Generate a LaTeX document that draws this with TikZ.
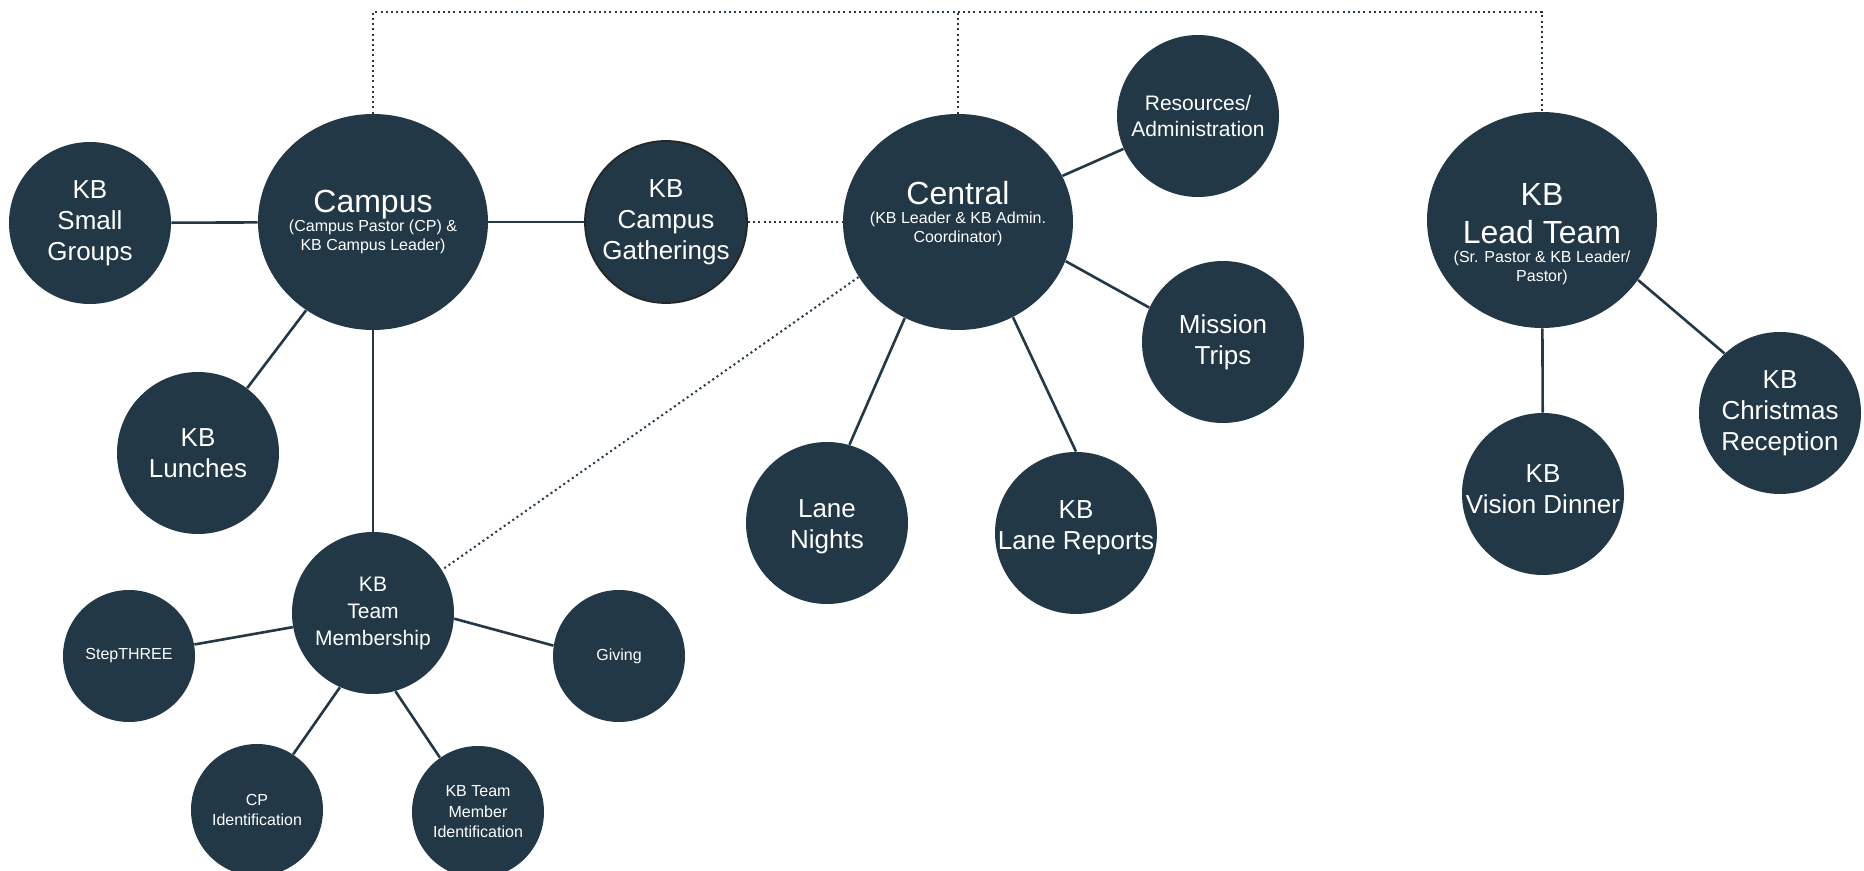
\documentclass[tikz,border=0pt]{standalone}
\usepackage{fontspec}
\setmainfont{Liberation Sans}
\usetikzlibrary{shapes.geometric}
\definecolor{kbfill}{RGB}{34,56,70}
\newcommand{\kbbigfont}{\fontsize{16pt}{19pt}\selectfont}
\newcommand{\kbsubfont}{\fontsize{8pt}{9.5pt}\selectfont}
\newcommand{\kbmedfont}{\fontsize{13pt}{15.5pt}\selectfont}
\newcommand{\kbmidfont}{\fontsize{10.5pt}{13.5pt}\selectfont}
\newcommand{\kbsmlfont}{\fontsize{8pt}{10.25pt}\selectfont}
\newcommand{\kbdeep}[2]{\raisebox{0pt}[\height][\dimexpr\depth+#1\relax]{#2}}
\newcommand{\kbtall}[2]{\raisebox{0pt}[\dimexpr\height+#1\relax][\depth]{#2}}
\begin{document}
\begin{tikzpicture}[x=0.5pt,y=-0.5pt,
  bub/.style={circle, fill=kbfill, text=white, inner sep=-30pt, align=center},
  large/.style={bub, ellipse, minimum width=115pt, minimum height=108pt, font=\kbsubfont},
  med/.style={bub, minimum size=81pt, font=\kbmedfont},
  mid/.style={bub, minimum size=81pt, font=\kbmidfont},
  sml/.style={bub, minimum size=66pt, font=\kbsmlfont},
  link/.style={draw=kbfill, line width=1.3pt},
  dotlink/.style={draw=kbfill, line width=1pt, dash pattern=on 1pt off 1.6pt}]
\clip (0,0) rectangle (1864,871);
\fill[white] (0,0) rectangle (1864,871);
% large nodes
\node[large] (campus) at (373,222) {{\kbbigfont Campus}\\(Campus Pastor (CP) \&\\KB Campus Leader)};
\node[large] (central) at (958,222) {{\kbbigfont Central}\\(KB Leader \& KB Admin.\\\kbdeep{8.4pt}{Coordinator)}};
\node[large] (lead) at (1542,220) {{\kbbigfont\raisebox{0pt}[25.5pt][0pt]{KB}}\\[6.3pt]{\kbbigfont Lead Team}\\(Sr. Pastor \& KB Leader/\\Pastor)};
% medium nodes
\node[med] (small) at (90,223) {KB\\Small\\Groups};
\node[med, draw=black!85, line width=0.9pt] (gath) at (666,222) {KB\\Campus\\Gatherings};
\node[mid, font=\fontsize{10.5pt}{13pt}\selectfont] (res) at (1198,116) {Resources/\\Administration};
\node[med] (mission) at (1223,342) {Mission\\Trips};
\node[med] (lunch) at (198,453) {KB\\Lunches};
\node[med] (lanen) at (827,523) {\kbtall{4pt}{Lane}\\Nights};
\node[med] (laner) at (1076,533) {KB\\\kbdeep{5pt}{Lane Reports}};
\node[med] (vision) at (1543,494) {KB\\\kbdeep{5pt}{Vision Dinner}};
\node[med] (xmas) at (1780,413) {KB\\Christmas\\Reception};
\node[mid] (team) at (373,613) {KB\\Team\\Membership};
% small nodes
\node[sml] (step) at (129,656) {StepTHREE};
\node[sml] (giving) at (619,656) {Giving};
\node[sml] (cpid) at (257,810) {CP\\Identification};
\node[sml] (kbid) at (478,812) {KB Team\\Member\\Identification};
% solid connectors
\draw[link] (small) -- (campus);
\draw[link] (campus) -- (gath);
\draw[link] (campus) -- (lunch);
\draw[link] (campus) -- (team);
\draw[link] (central) -- (res);
\draw[link] (central.-20) -- (mission.155);
\draw[link] (central.-119) -- (lanen.74);
\draw[link] (central.-60) -- (laner.north);
\draw[link] (lead) -- (vision);
\draw[link] (lead.-32) -- (xmas.133);
\draw[link] (team) -- (step);
\draw[link] (team.-4) -- (giving.171);
\draw[link] (team.-114) -- (cpid.57);
\draw[link] (team.-74) -- (kbid.125);
% dotted connectors
\coordinate (ctop) at (958,12);
\draw[dotlink] (gath) -- (central);
\draw[dotlink] (central.209) -- (team.32);
\draw[dotlink] (campus.north) |- (ctop) -| (lead.north);
\draw[dotlink] (central.north) -- (ctop);
\end{tikzpicture}
\end{document}
